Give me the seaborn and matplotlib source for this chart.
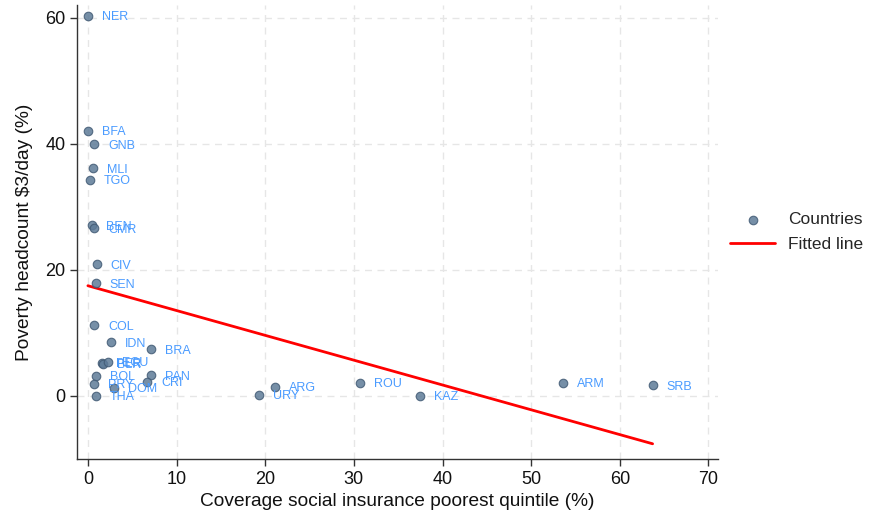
import numpy as np
import pandas as pd
import seaborn as sns
import matplotlib
matplotlib.use("Agg")
import matplotlib.pyplot as plt

# data
countries = ["NER", "BFA", "GNB", "MLI", "TGO", "BEN", "CMR", "CIV", "SEN", "COL",
             "IDN", "BRA", "PER", "BLR", "ECU", "BOL", "PAN", "CRI", "PRY", "DOM",
             "THA", "URY", "ARG", "ROU", "KAZ", "ARM", "SRB"]
coverage = [0.0, 0.0, 0.7, 0.6, 0.2, 0.45, 0.7, 1.0, 0.9, 0.7,
            2.6, 7.1, 1.6, 1.7, 2.3, 0.9, 7.1, 6.7, 0.7, 3.0,
            0.9, 19.3, 21.1, 30.7, 37.5, 53.6, 63.7]
poverty = [60.3, 42.1, 39.9, 36.1, 34.3, 27.1, 26.6, 20.9, 17.9, 11.2,
           8.5, 7.4, 5.3, 5.1, 5.4, 3.2, 3.3, 2.2, 1.9, 1.3,
           0.0, 0.2, 1.4, 2.1, 0.0, 2.1, 1.7]

df = pd.DataFrame({"country": countries, "coverage": coverage, "poverty": poverty})

# linear fit over the data range
slope, intercept = np.polyfit(df["coverage"], df["poverty"], 1)
fit = pd.DataFrame({"coverage": [df["coverage"].min(), df["coverage"].max()]})
fit["poverty"] = intercept + slope * fit["coverage"]

sns.set_theme(style="white")
plt.rcParams["font.family"] = ["Liberation Sans", "DejaVu Sans"]

fig = plt.figure(figsize=(8.78, 5.18), dpi=100)
ax = fig.add_axes([0.088, 0.114, 0.730, 0.876])

sns.scatterplot(data=df, x="coverage", y="poverty", ax=ax, s=38,
                color="#5e7b98", edgecolor="#415a74", linewidth=0.8,
                alpha=0.85, label="Countries", zorder=3)
for _, r in df.iterrows():
    ax.annotate(r["country"], (r["coverage"], r["poverty"]), xytext=(10, -1),
                textcoords="offset points", color="#4a9bff", fontsize=9,
                va="center", zorder=4)

sns.lineplot(data=fit, x="coverage", y="poverty", ax=ax, color="#ff0000",
             linewidth=2, label="Fitted line", zorder=2)

ax.set_xlim(-1.2, 71.1)
ax.set_ylim(-10, 62)
ax.set_xticks(range(0, 71, 10))
ax.set_yticks(range(0, 61, 20))
ax.grid(True, color="#e6e6e6", linestyle=(0, (5, 4)), linewidth=1)
for s in ["top", "right"]:
    ax.spines[s].set_visible(False)
for s in ["left", "bottom"]:
    ax.spines[s].set_color("#333333")
    ax.spines[s].set_linewidth(1)
ax.tick_params(axis="both", which="major", direction="out", length=5, width=1,
               color="#333333", labelsize=13, labelcolor="#111111", bottom=True, left=True)
ax.set_xlabel("Coverage social insurance poorest quintile (%)", fontsize=13.8,
              color="#111111", labelpad=4)
ax.set_ylabel("Poverty headcount $3/day (%)", fontsize=13.8, color="#111111", labelpad=9)

ax.legend(loc="center left", bbox_to_anchor=(1.0, 0.50), frameon=False,
          fontsize=12.5, handlelength=2.6, labelspacing=0.55, handletextpad=0.7,
          borderaxespad=0.3)

fig.savefig("out.png", dpi=100)
